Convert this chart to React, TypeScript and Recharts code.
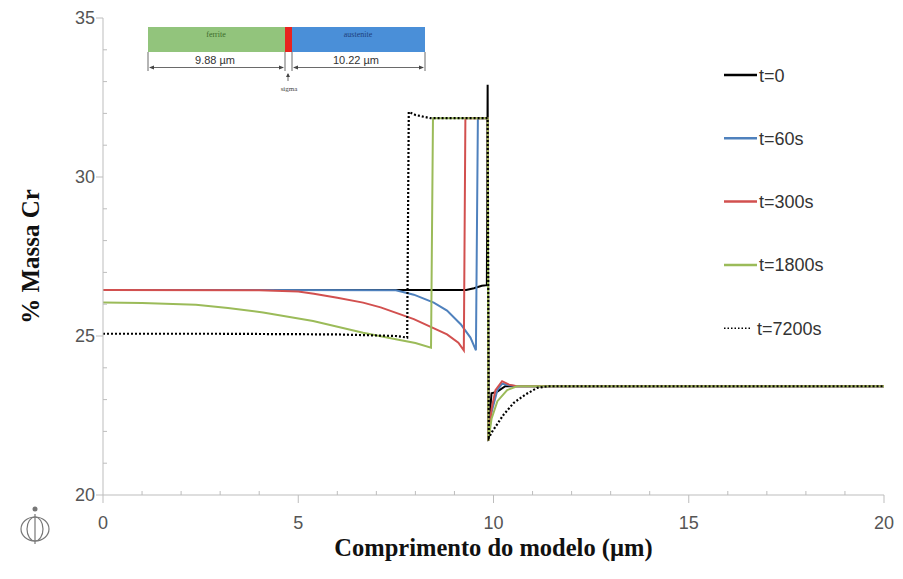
import React from 'react';
import { LineChart, Line, XAxis, YAxis } from 'recharts';

// perfis de Cr ao longo do modelo (x em µm, y em % massa)
const t0X = [0, 9.3, 9.5, 9.7, 9.83, 9.85, 9.87, 9.95, 10.1, 10.3, 20];
const t0Y = [26.45, 26.45, 26.5, 26.58, 26.6, 32.9, 22.0, 23.2, 23.25, 23.42, 23.42];

const t60X = [0, 7.5, 7.96, 8.47, 8.81, 9.16, 9.41, 9.55, 9.6, 9.85, 9.87, 9.95, 10.1, 10.22, 10.4, 10.6, 20];
const t60Y = [26.45, 26.44, 26.3, 26.05, 25.8, 25.37, 24.95, 24.55, 31.85, 31.85, 21.8, 22.6, 23.3, 23.5, 23.45, 23.42, 23.42];

const t300X = [0, 4.0, 5.0, 5.4, 6.0, 6.66, 7.11, 7.96, 8.81, 9.1, 9.24, 9.28, 9.85, 9.87, 9.95, 10.05, 10.22, 10.4, 10.6, 20];
const t300Y = [26.45, 26.44, 26.4, 26.33, 26.2, 26.05, 25.9, 25.53, 25.05, 24.79, 24.55, 31.85, 31.85, 21.7, 22.7, 23.3, 23.58, 23.47, 23.42, 23.42];

const t1800X = [0, 1, 2.38, 3.2, 4.1, 5.38, 6.66, 7.5, 8.0, 8.4, 8.45, 9.85, 9.87, 9.95, 10.1, 10.35, 10.6, 20];
const t1800Y = [26.05, 26.04, 25.98, 25.88, 25.74, 25.47, 25.1, 24.9, 24.78, 24.63, 31.85, 31.85, 21.7, 22.4, 22.95, 23.3, 23.42, 23.42];

const t7200X = [0, 3, 6, 7.5, 7.79, 7.83, 8.0, 8.39, 9.85, 9.88, 9.97, 10.26, 10.52, 10.82, 11.12, 11.4, 20];
const t7200Y = [25.07, 25.07, 25.05, 25.0, 24.95, 32.05, 31.95, 31.85, 31.85, 21.8, 22.0, 22.53, 22.9, 23.16, 23.37, 23.42, 23.42];

const xTicks = [0, 1, 2, 3, 4, 5, 6, 7, 8, 9, 10, 11, 12, 13, 14, 15, 16, 17, 18, 19, 20];
const yTicks = [20, 21, 22, 23, 24, 25, 26, 27, 28, 29, 30, 31, 32, 33, 34, 35];

const toPoints = (xs: number[], ys: number[]) => xs.map((x, i) => ({ x, y: ys[i] }));

const series = [
    { name: 't=0', color: '#000000', dash: undefined, data: toPoints(t0X, t0Y) },
    { name: 't=60s', color: '#4f81bd', dash: undefined, data: toPoints(t60X, t60Y) },
    { name: 't=300s', color: '#d2504f', dash: undefined, data: toPoints(t300X, t300Y) },
    { name: 't=1800s', color: '#9bbb59', dash: undefined, data: toPoints(t1800X, t1800Y) },
    { name: 't=7200s', color: '#000000', dash: '2 2', data: toPoints(t7200X, t7200Y) },
];

const axisColor = '#bdbdbd';
const sans = '"Liberation Sans", Arial, sans-serif';
const serif = '"Liberation Serif", "Times New Roman", serif';

const YTick = ({ x, y, payload }: any) => {
    const major = payload.value % 5 === 0;
    return (
        <g>
            {major ? (
                <line x1={x - 7} x2={x} y1={y} y2={y} stroke={axisColor} />
            ) : (
                <line x1={x} x2={x + 4} y1={y} y2={y} stroke={axisColor} />
            )}
            {major && (
                <text x={x - 8} y={y} dy={6} textAnchor="end" fontSize={18} fill="#555" fontFamily={sans}>
                    {payload.value}
                </text>
            )}
        </g>
    );
};

const XTick = ({ x, y, payload }: any) => {
    const major = payload.value % 5 === 0;
    return (
        <g>
            {major ? (
                <line x1={x} x2={x} y1={y} y2={y + 8} stroke={axisColor} />
            ) : (
                <line x1={x} x2={x} y1={y - 4} y2={y} stroke={axisColor} />
            )}
            {major && (
                <text x={x} y={y + 34} textAnchor="middle" fontSize={18} fill="#555" fontFamily={sans}>
                    {payload.value}
                </text>
            )}
        </g>
    );
};

function Overlay() {
    return (
        <svg
            width={903}
            height={579}
            style={{ position: 'absolute', left: 0, top: 0, pointerEvents: 'none' }}
        >
            {/* esquema ferrita / sigma / austenita */}
            <rect x={148} y={27} width={137} height={25} fill="#92c47c" />
            <rect x={285} y={27} width={7} height={25} fill="#e8231f" />
            <rect x={292} y={27} width={133} height={25} fill="#4a8fd8" />
            <text x={216} y={37} textAnchor="middle" fontSize={8} fill="#3b6b2b" fontFamily={serif}>ferrite</text>
            <text x={358} y={37} textAnchor="middle" fontSize={8} fill="#1f3f7a" fontFamily={serif}>austenite</text>
            <g stroke="#444" strokeWidth={0.8}>
                <line x1={148} x2={148} y1={52} y2={71} />
                <line x1={285} x2={285} y1={52} y2={71} />
                <line x1={292} x2={292} y1={52} y2={71} />
                <line x1={425} x2={425} y1={52} y2={71} />
                <line x1={150} x2={283} y1={67.5} y2={67.5} />
                <line x1={294} x2={423} y1={67.5} y2={67.5} />
                <line x1={288} x2={288} y1={74} y2={81} />
            </g>
            <g fill="#444">
                <polygon points="149,67.5 154,65.5 154,69.5" />
                <polygon points="284,67.5 279,65.5 279,69.5" />
                <polygon points="293,67.5 298,65.5 298,69.5" />
                <polygon points="424,67.5 419,65.5 419,69.5" />
                <polygon points="288,73 286,77 290,77" />
            </g>
            <text x={215} y={64} textAnchor="middle" fontSize={11} fill="#333" fontFamily={sans}>9.88 µm</text>
            <text x={356} y={64} textAnchor="middle" fontSize={11} fill="#333" fontFamily={sans}>10.22 µm</text>
            <text x={289} y={91} textAnchor="middle" fontSize={7} fill="#444" fontFamily={serif}>sigma</text>

            {/* legenda */}
            {series.map((s, i) => {
                const cy = 75 + i * 63.3;
                return (
                    <g key={s.name}>
                        <line
                            x1={724}
                            x2={s.dash ? 752 : 757}
                            y1={cy}
                            y2={cy}
                            stroke={s.color}
                            strokeWidth={s.dash ? 1.5 : 2.5}
                            strokeDasharray={s.dash ? '1.5 2' : undefined}
                        />
                        <text x={s.dash ? 757 : 759} y={cy + 6.5} fontSize={18} fill="#333" fontFamily={sans}>
                            {s.name}
                        </text>
                    </g>
                );
            })}

            {/* logotipo */}
            <g stroke="#777" strokeWidth={1.2} fill="none">
                <ellipse cx={35} cy={529} rx={14} ry={12} />
                <ellipse cx={35} cy={529} rx={8} ry={12} />
                <line x1={35} x2={35} y1={514} y2={544} />
            </g>
            <circle cx={35} cy={509} r={2.5} fill="#777" />
        </svg>
    );
}

export default function App() {
    return (
        <div style={{ position: 'absolute', left: 0, top: 0, width: 903, height: 579, background: '#fff' }}>
            <LineChart width={903} height={579} margin={{ top: 18, right: 19, bottom: 54, left: 0 }}>
                <XAxis
                    type="number"
                    dataKey="x"
                    domain={[0, 20]}
                    ticks={xTicks}
                    interval={0}
                    allowDataOverflow
                    height={30}
                    stroke={axisColor}
                    tickLine={false}
                    tickSize={0}
                    tickMargin={0}
                    tick={<XTick />}
                    label={{
                        value: 'Comprimento do modelo (µm)',
                        position: 'bottom',
                        offset: 14,
                        style: { fontFamily: serif, fontWeight: 'bold', fontSize: 24.5, fill: '#111' },
                    }}
                />
                <YAxis
                    type="number"
                    dataKey="y"
                    domain={[20, 35]}
                    ticks={yTicks}
                    interval={0}
                    allowDataOverflow
                    width={103}
                    stroke={axisColor}
                    tickLine={false}
                    tickSize={0}
                    tickMargin={0}
                    tick={<YTick />}
                    label={{
                        value: '% Massa Cr',
                        angle: -90,
                        position: 'insideLeft',
                        offset: 30,
                        style: { textAnchor: 'middle', fontFamily: serif, fontWeight: 'bold', fontSize: 25, fill: '#111' },
                    }}
                />
                {series.map((s) => (
                    <Line
                        key={s.name}
                        data={s.data}
                        dataKey="y"
                        type="linear"
                        stroke={s.color}
                        strokeWidth={s.dash ? 2.2 : 2}
                        strokeDasharray={s.dash}
                        dot={false}
                        activeDot={false}
                        isAnimationActive={false}
                        name={s.name}
                    />
                ))}
            </LineChart>
            <Overlay />
        </div>
    );
}
